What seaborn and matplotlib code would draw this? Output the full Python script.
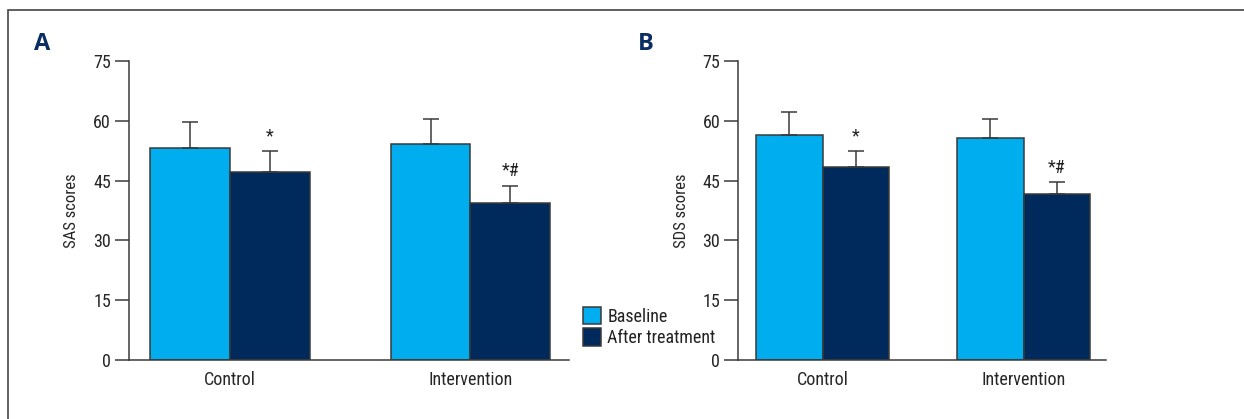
import matplotlib
matplotlib.use("Agg")
import matplotlib.pyplot as plt
from matplotlib import font_manager
from matplotlib.patches import Rectangle, Patch
import seaborn as sns
import pandas as pd

# Group means and standard deviations
groups = ["Control", "Intervention"]
phases = ["Baseline", "After treatment"]

sas_baseline = [53.2, 54.2]
sas_after = [47.1, 39.4]
sas_baseline_sd = [6.4, 6.2]
sas_after_sd = [5.3, 4.3]

sds_baseline = [56.4, 55.8]
sds_after = [48.3, 41.7]
sds_baseline_sd = [5.9, 4.6]
sds_after_sd = [4.1, 2.9]

sas_marks = ["*", "*#"]
sds_marks = ["*", "*#"]

y_ticks = [0, 15, 30, 45, 60, 75]

LIGHT = "#00AEEF"
DARK = "#002A5C"
EDGE = "#3a3a3a"
NAVY = "#0B2D62"

sns.set_theme(style="white")
available = {f.name for f in font_manager.fontManager.ttflist}
families = [f for f in ["Liberation Sans Narrow", "Roboto Condensed", "Open Sans Condensed",
                        "Roboto", "DejaVu Sans"] if f in available]
plt.rcParams["font.family"] = families
plt.rcParams["text.color"] = "#222222"

fig = plt.figure(figsize=(12.44, 4.19), dpi=100)
W, H = 1244, 419


def frac_axes(x0, x1, y_top, y_bot):
    return fig.add_axes([x0 / W, 1 - y_bot / H, (x1 - x0) / W, (y_bot - y_top) / H])


axA = frac_axes(129, 569, 61, 360)
axB = frac_axes(738.3, 1106, 61, 360)


def panel(ax, base, after, base_sd, after_sd, marks, ylabel):
    df = pd.DataFrame({
        "group": groups * 2,
        "phase": [phases[0]] * 2 + [phases[1]] * 2,
        "score": list(base) + list(after),
        "sd": list(base_sd) + list(after_sd),
    })
    sns.barplot(data=df, x="group", y="score", hue="phase", order=groups,
                hue_order=phases, palette=[LIGHT, DARK], width=0.664,
                errorbar=None, edgecolor=EDGE, linewidth=1.1, saturation=1,
                legend=False, ax=ax)
    # one-sided SD whiskers drawn from each bar's centre
    bars = sorted([p for p in ax.patches if isinstance(p, Rectangle)][:4],
                  key=lambda p: p.get_x())
    order = [(0, 0), (0, 1), (1, 0), (1, 1)]
    for bar, (gi, pi) in zip(bars, order):
        cx = bar.get_x() + bar.get_width() / 2
        mean = bar.get_height()
        sd = (base_sd if pi == 0 else after_sd)[gi]
        ax.errorbar(cx, mean, yerr=[[0], [sd]], fmt="none", ecolor=EDGE,
                    elinewidth=1.1, capsize=5.5, capthick=1.1, zorder=1)
        if pi == 1:
            ax.text(cx, mean + sd + 1.4, marks[gi], ha="center", va="bottom",
                    fontsize=13, color="#222222")
    ax.set_ylim(0, 75)
    ax.set_xlim(-0.42, 1.41)
    ax.set_yticks(y_ticks)
    ax.set_ylabel(ylabel, fontsize=12, labelpad=10)
    ax.set_xlabel("")
    for s in ["top", "right"]:
        ax.spines[s].set_visible(False)
    for s in ["left", "bottom"]:
        ax.spines[s].set_color(EDGE)
        ax.spines[s].set_linewidth(1.1)
    ax.tick_params(axis="y", which="both", left=True, length=10, width=1.1,
                   color=EDGE, labelsize=13, pad=3, direction="out")
    ax.tick_params(axis="x", bottom=False, labelsize=13, pad=2)


panel(axA, sas_baseline, sas_after, sas_baseline_sd, sas_after_sd, sas_marks, "SAS scores")
panel(axB, sds_baseline, sds_after, sds_baseline_sd, sds_after_sd, sds_marks, "SDS scores")

fig.text(42 / W, 1 - 44 / H, "A", fontsize=17, fontweight="bold", color=NAVY,
         ha="center", va="center", family=["Open Sans", "DejaVu Sans"])
fig.text(646 / W, 1 - 44 / H, "B", fontsize=17, fontweight="bold", color=NAVY,
         ha="center", va="center", family=["Open Sans", "DejaVu Sans"])

handles = [Patch(facecolor=LIGHT, edgecolor=EDGE, linewidth=1.1),
           Patch(facecolor=DARK, edgecolor=EDGE, linewidth=1.1)]
fig.legend(handles, phases, loc="center left", bbox_to_anchor=(583 / W, 1 - 327 / H),
           frameon=False, fontsize=13, handlelength=1.0, handleheight=1.1,
           handletextpad=0.35, labelspacing=0.15, borderaxespad=0, borderpad=0)

# outer frame running off the right and bottom edges
fig.add_artist(Rectangle((8 / W, -0.1), 1.2, 1 - 10 / H + 0.1, transform=fig.transFigure,
                         fill=False, edgecolor="#444444", linewidth=1.2))

fig.savefig("out.png", dpi=100)
